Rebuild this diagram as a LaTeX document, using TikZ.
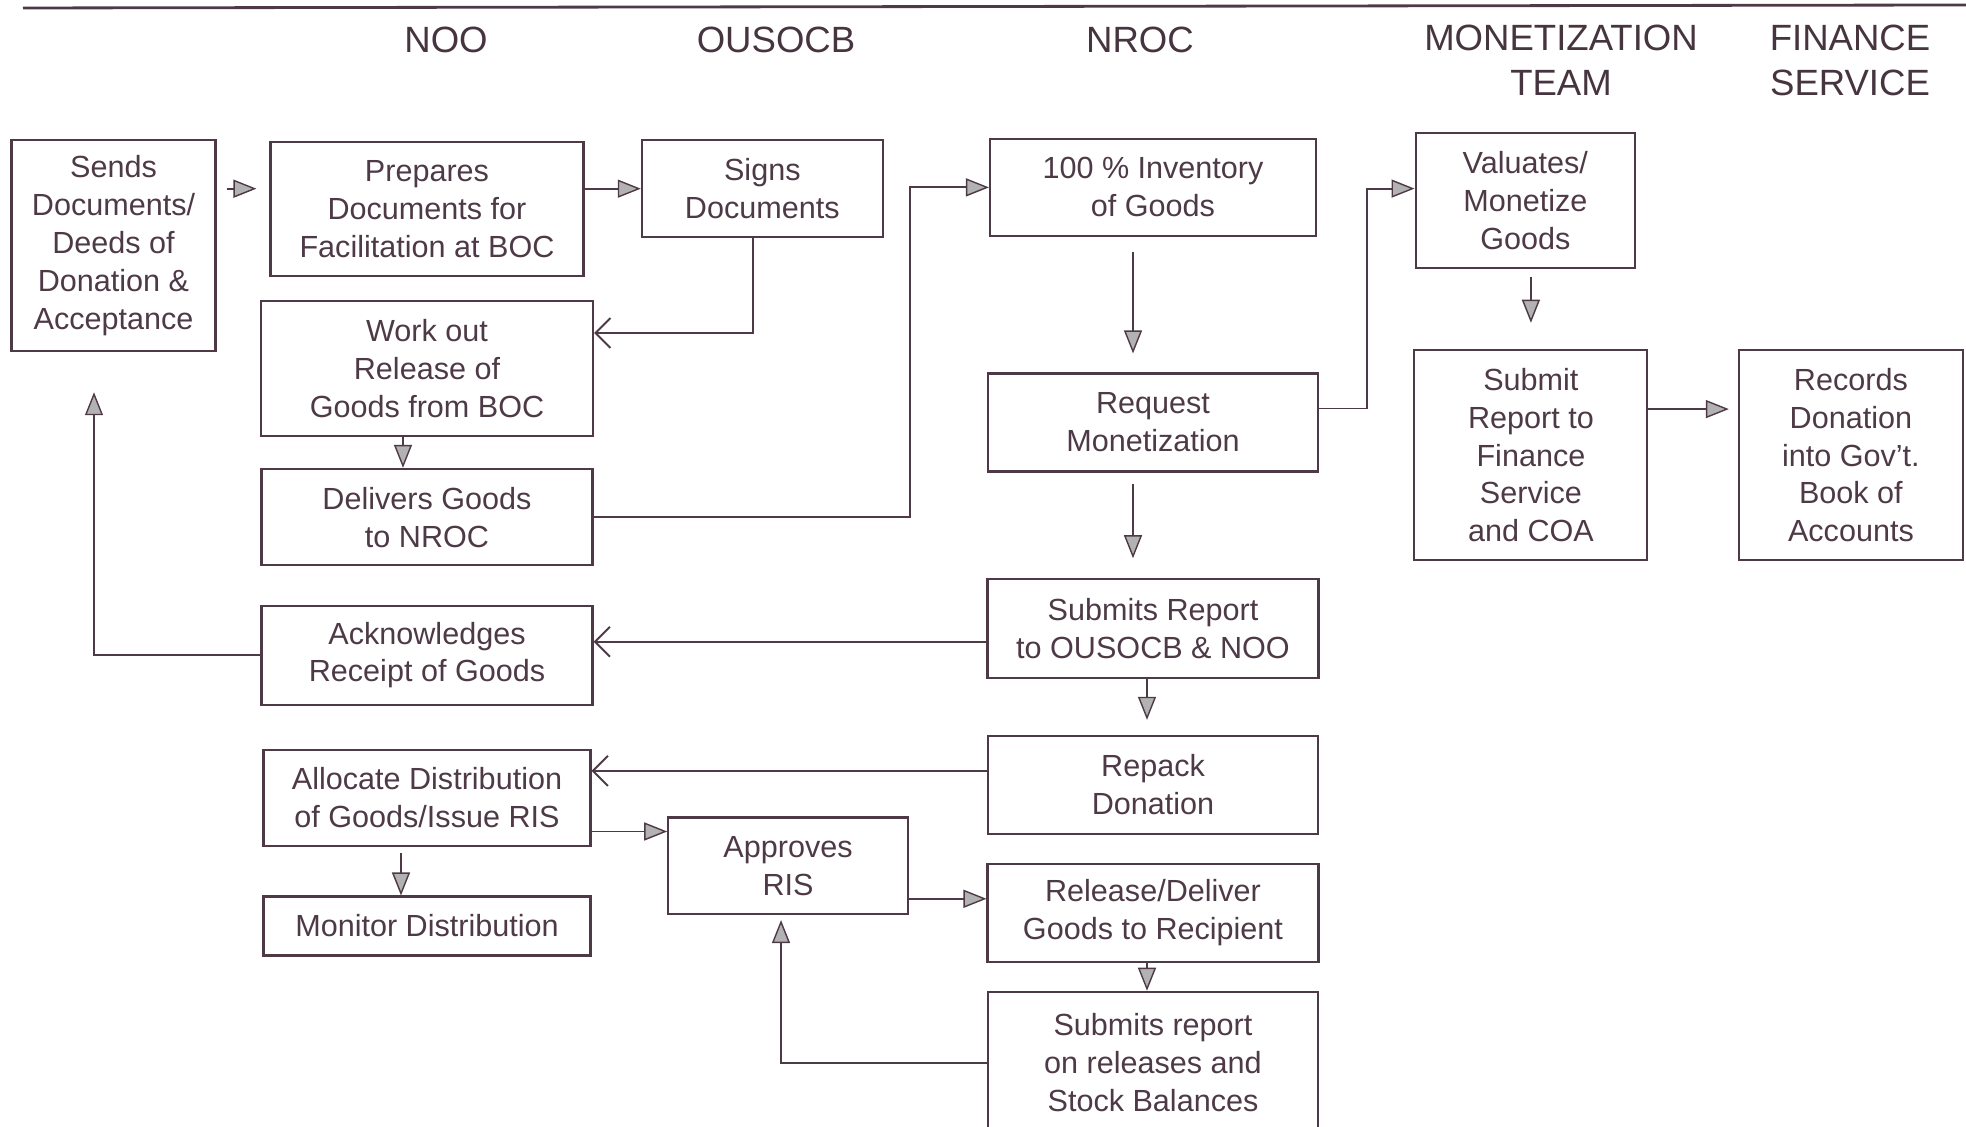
\documentclass[tikz,border=0pt]{standalone}
\usepackage{fontspec}
\setmainfont{Liberation Sans}
\usepackage{tikz}
\usetikzlibrary{arrows.meta,positioning}
\definecolor{ink}{RGB}{78,58,70}
\newcommand\boxfont{\fontsize{8.7}{10.8}\selectfont}
\newcommand\headfont{\fontsize{10.4}{12.8}\selectfont}

\begin{document}
\begin{tikzpicture}[on grid,node distance=1.5cm,
    box/.style 2 args={draw=ink,line width=0.6pt,align=center,text=ink,
      minimum width=#1,minimum height=#2,inner sep=2pt,font=\boxfont},
    head/.style={align=center,text=ink!90!black,font=\headfont},
    arr/.style={draw=ink,line width=0.55pt,
      -{Triangle[length=0.23cm,width=0.18cm,fill=gray!60,line width=0.4pt]}},
    back/.style={draw=ink,line width=0.55pt,-{Straight Barb[length=0.15cm,width=0.3cm]}}]
   \useasboundingbox (0,0) rectangle (19.66,-11.27);
   \draw[ink,line width=0.8pt] (0.23,-0.08) -- (19.66,-0.05);
   % column heads
   \node[head] (h_noo)  at (4.46,-0.40)  {NOO};
   \node[head] (h_ous)  at (7.76,-0.40)  {OUSOCB};
   \node[head] (h_nroc) at (11.40,-0.40) {NROC};
   \node[head] (h_mon)  at (15.61,-0.60) {MONETIZATION\\TEAM};
   \node[head] (h_fin)  at (18.50,-0.60) {FINANCE\\SERVICE};
   % NOO
   \node[box={2.04cm}{2.11cm}] (sends) at (1.135,-2.457)
        {Sends\\Documents/\\Deeds of\\Donation \&\\Acceptance};
   \node[box={3.13cm}{1.34cm}] (prep) at (4.27,-2.088)
        {Prepares\\Documents for\\Facilitation at BOC};
   \node[box={3.32cm}{1.35cm}] (workout) [below=1.598 of prep]
        {Work out\\Release of\\Goods from BOC};
   \node[box={3.31cm}{0.965cm}] (deliver) [below=1.486 of workout]
        {Delivers Goods\\to NROC};
   \node[box={3.31cm}{0.99cm}] (ack) [below=1.379 of deliver]
        {Acknowledges\\Receipt of Goods};
   \node[box={3.27cm}{0.965cm}] (alloc) [below=1.429 of ack]
        {Allocate Distribution\\of Goods/Issue RIS};
   \node[box={3.27cm}{0.59cm}] (monitor) [below=1.28 of alloc]
        {Monitor Distribution};
   % OUSOCB
   \node[box={2.41cm}{0.965cm}] (signs) at (7.623,-1.887) {Signs\\Documents};
   \node[box={2.395cm}{0.965cm}] (approve) at (7.88,-8.658) {Approves\\RIS};
   % NROC
   \node[box={3.26cm}{0.965cm}] (inventory) at (11.53,-1.874)
        {100 \% Inventory\\of Goods};
   \node[box={3.30cm}{0.98cm}] (request) [below=2.351 of inventory]
        {Request\\Monetization};
   \node[box={3.31cm}{0.99cm}] (reportn) [below=2.063 of request]
        {Submits Report\\to OUSOCB \& NOO};
   \node[box={3.30cm}{0.98cm}] (repack) [below=1.561 of reportn]
        {Repack\\Donation};
   \node[box={3.31cm}{0.98cm}] (release) [below=1.279 of repack]
        {Release/Deliver\\Goods to Recipient};
   \node[box={3.30cm}{1.42cm}] (stock) [below=1.50 of release]
        {Submits report\\on releases and\\Stock Balances};
   % monetization team, finance service
   \node[box={2.195cm}{1.354cm}] (valuate) at (15.253,-2.006)
        {Valuates/\\Monetize\\Goods};
   \node[box={2.33cm}{2.106cm}] (submitfin) at (15.309,-4.551)
        {Submit\\Report to\\Finance\\Service\\and COA};
   \node[box={2.24cm}{2.106cm}] (records) [right=3.2 of submitfin]
        {Records\\Donation\\into Gov't.\\Book of\\Accounts};
   % helper points
   \coordinate (c_wo)  at ([yshift=-3.3mm]workout.north east);
   \coordinate (c_rq)  at ([yshift=1.4mm]request.east);
   \coordinate (c_va)  at ([yshift=1.2mm]valuate.west);
   \coordinate (c_sf)  at ([yshift=4.6mm]submitfin.east);
   \coordinate (c_rn)  at ([yshift=-1.3mm]reportn.west);
   \coordinate (c_rp)  at ([yshift=1.4mm]repack.west);
   \coordinate (c_ap)  at ([yshift=-1.5mm]approve.north west);
   \coordinate (c_ae)  at ([yshift=-3.3mm]approve.east);
   % connectors
   \draw[arr,shorten <=1mm,shorten >=1.3mm] (sends.east |- signs.west) -- (prep.west |- signs.west);
   \draw[arr] (prep.east |- signs.west) -- (signs.west);
   \draw[back] ([xshift=-0.9mm]signs.south) |- (c_wo);
   \draw[arr] ([xshift=-2.4mm]workout.south) -- ([xshift=-2.4mm]deliver.north);
   \draw[arr] (deliver.east) -- ++(3.16,0) |- (inventory.west);
   \draw[arr,shorten <=1.5mm,shorten >=1.9mm] ([xshift=-2mm]inventory.south) -- ([xshift=-2mm]request.north);
   \draw[arr,shorten <=1.1mm,shorten >=2mm] ([xshift=-2mm]request.south) -- ([xshift=-2mm]reportn.north);
   \draw[arr] (c_rq) -- ++(0.48,0) |- (c_va);
   \draw[arr,shorten <=0.8mm,shorten >=2.6mm] (valuate.south -| submitfin.north) -- (submitfin.north);
   \draw[arr,shorten >=0.9mm] (c_sf) -- (c_sf -| records.west);
   \draw[back] (c_rn) -- (c_rn -| ack.east);
   \draw[arr,shorten >=4mm] (ack.west) -| ([xshift=-1.95mm]sends.south);
   \draw[arr,shorten >=1.5mm] ([xshift=-0.6mm]reportn.south) -- ([xshift=-0.6mm]repack.north);
   \draw[back] (c_rp) -- (c_rp -| alloc.east);
   \draw[arr] (alloc.east |- c_ap) -- (c_ap);
   \draw[arr,shorten <=0.6mm] ([xshift=-2.6mm]alloc.south) -- ([xshift=-2.6mm]monitor.north);
   \draw[arr] (c_ae) -- (c_ae -| release.west);
   \draw[arr] ([xshift=-0.6mm]release.south) -- ([xshift=-0.6mm]stock.north);
   \draw[arr,shorten >=0.5mm] (stock.west) -| ([xshift=-0.7mm]approve.south);
\end{tikzpicture}
\end{document}
